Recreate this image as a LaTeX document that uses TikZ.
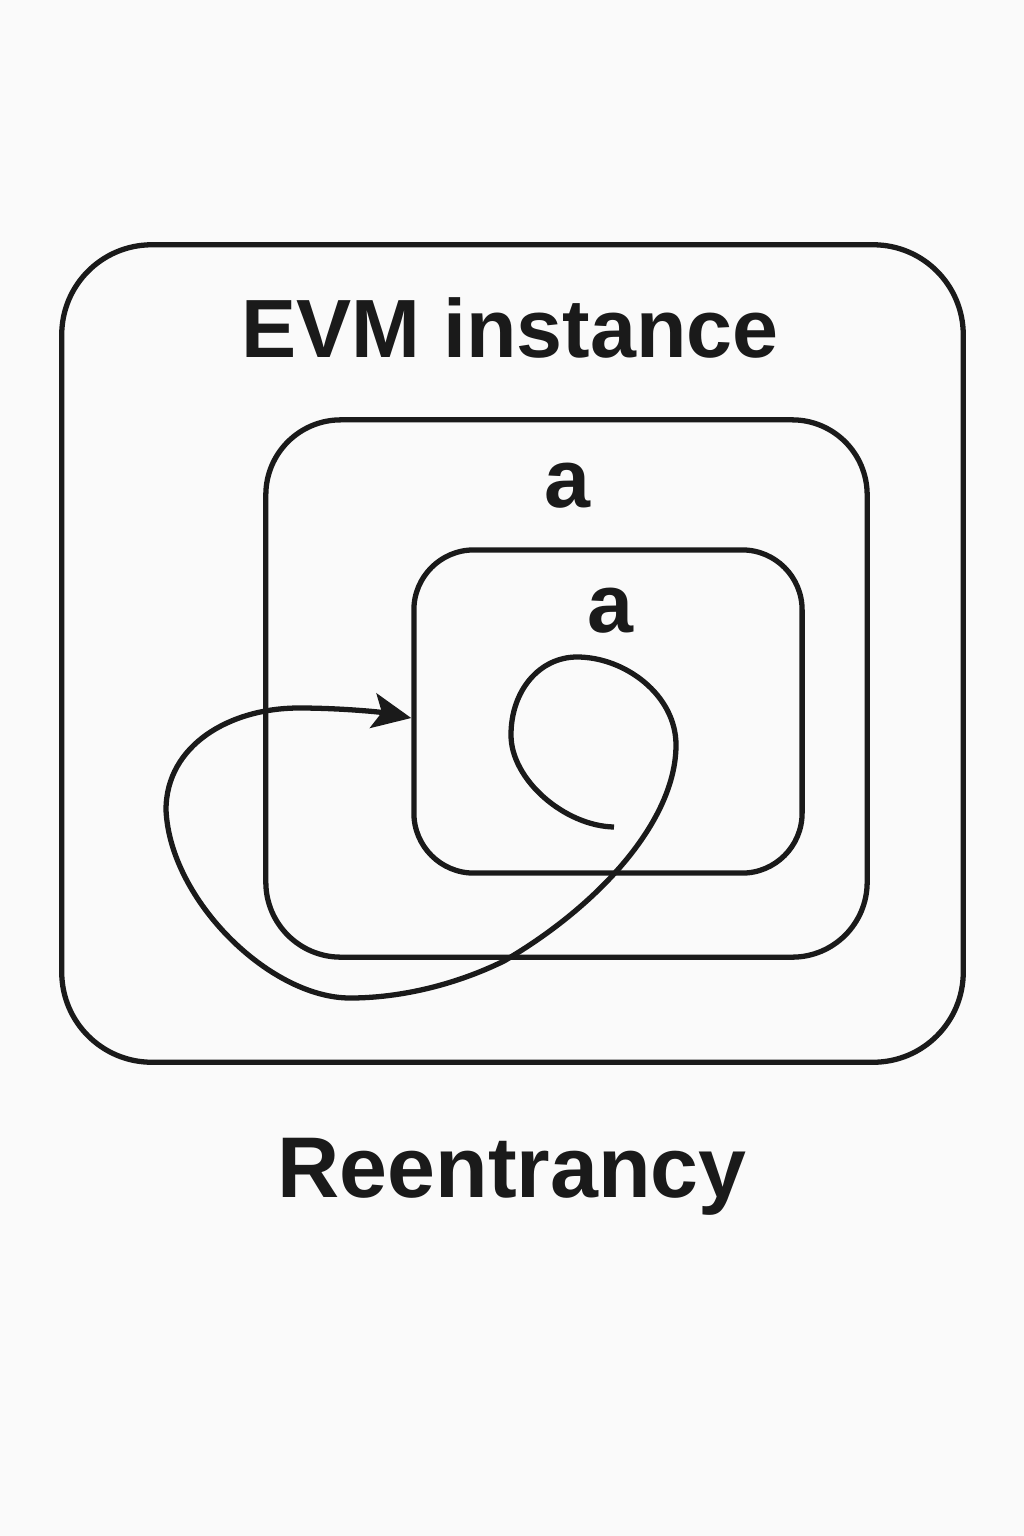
\documentclass[tikz,border=0pt]{standalone}
\usepackage{fontspec}
\setmainfont{Liberation Sans}
\usepackage{tikz}
\usepackage{xcolor}
\usetikzlibrary{arrows.meta, positioning}
\definecolor{ink}{HTML}{1A1A1A}
\definecolor{paper}{HTML}{FAFAFA}
\tikzstyle{frame}  = [rectangle, draw=ink, line width=1.5pt, inner sep=0pt]
\tikzstyle{title}  = [text=ink, font=\fontsize{23.5}{27}\selectfont\bfseries, anchor=base]
\tikzstyle{arrow}  = [-{Stealth[length=11pt, width=10pt, inset=2.5pt]}, draw=ink, line width=1.5pt]

\begin{document}
\begin{tikzpicture}[x=0.01cm, y=-0.01cm]
    \fill[paper] (0,0) rectangle (1024,1536);
    \useasboundingbox (0,0) rectangle (1024,1536);

    \node (evm) [frame, minimum width=9.01cm, minimum height=8.17cm, rounded corners=0.9cm] at (512.5,653.5) {};
    \node (outer) [frame, minimum width=6.01cm, minimum height=5.37cm, rounded corners=0.75cm] at (566.5,688.5) {};
    \node (inner) [frame, minimum width=3.88cm, minimum height=3.23cm, rounded corners=0.6cm] at (608,711.5) {};

    \node (evmlabel) [title] at (510,357) {EVM instance};
    \node (outerlabel) [title] at (567,507) {a};
    \node (innerlabel) [title] at (610,632) {a};
    \node (caption) [title, font=\fontsize{24.5}{28}\selectfont\bfseries] at (512,1197) {Reentrancy};

    \coordinate (loopend) at (614,827);
    \coordinate (entry) at (inner.west |- 0,718);
    \draw[arrow] (loopend)
        .. controls (565,826) and (511,780) .. (511,735)
        .. controls (511,690) and (540,657) .. (577,657)
        .. controls (625,657) and (676,695) .. (676,745)
        .. controls (676,820) and (600,905) .. (504,961)
        .. controls (455,985) and (400,998) .. (350,998)
        .. controls (270,998) and (170,900) .. (166,810)
        .. controls (166,745) and (230,708) .. (299,708)
        .. controls (340,708) and (380,712) .. (entry);
\end{tikzpicture}
\end{document}
